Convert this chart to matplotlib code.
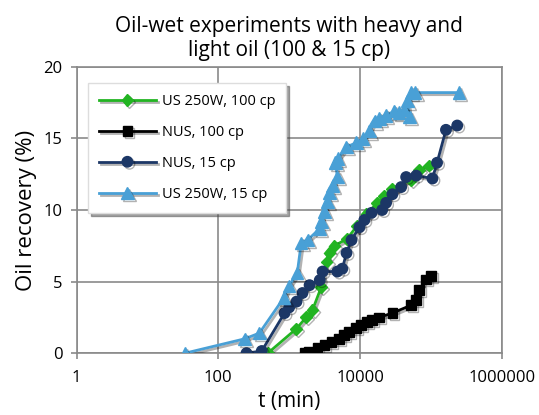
import matplotlib
matplotlib.use("Agg")
import matplotlib.pyplot as plt
import matplotlib.patheffects as pe
from matplotlib.ticker import FixedLocator, FixedFormatter, NullLocator

plt.rcParams['font.family'] = ['Open Sans', 'DejaVu Sans']

# US 250W, 100 cp (green diamonds)
us100_t = [500, 1260, 1740, 2130, 2830, 3370, 3700, 4360, 6600, 9100,
           12300, 17500, 22000, 28500, 52000, 68700, 95000]
us100_r = [0.0, 1.7, 2.5, 3.0, 4.6, 6.4, 7.0, 7.5, 8.0, 8.9,
           9.7, 10.5, 11.0, 11.5, 12.1, 12.8, 13.1]

# NUS, 100 cp (black squares)
nus100_t = [1650, 1900, 2500, 3150, 3950, 5060, 5960, 7000, 8850, 10400,
            12600, 14800, 18600, 28600, 52700, 62000, 68000, 85000, 100000]
nus100_r = [0.05, 0.1, 0.4, 0.55, 0.8, 1.0, 1.25, 1.5, 1.75, 1.95,
            2.2, 2.3, 2.5, 2.8, 3.35, 3.7, 4.4, 5.15, 5.4]

# NUS, 15 cp (navy circles)
nus15_t = [250, 410, 860, 1000, 1270, 1540, 1940, 2700, 2960, 4780, 5620,
           6440, 7580, 9800, 11500, 14500, 20500, 23300, 28600, 38000,
           44700, 62000, 105000, 122000, 163000, 235000]
nus15_r = [0.0, 0.15, 2.8, 3.2, 3.6, 4.2, 4.75, 5.1, 5.7, 5.7, 5.9,
           7.0, 7.9, 8.8, 9.3, 9.8, 10.0, 10.5, 11.1, 11.6,
           12.3, 12.4, 12.2, 13.3, 15.6, 15.9]

# US 250W, 15 cp (light blue triangles)
us15_t = [34, 235, 380, 850, 1000, 1300, 1480, 1820, 2700, 2850, 3150,
          3450, 3700, 4100, 4800, 4500, 4900, 6400, 8900, 11000, 13500,
          16000, 18700, 23000, 30500, 35600, 42000, 50000, 46500, 52600,
          60000, 250000]
us15_r = [0.0, 1.0, 1.4, 3.9, 4.7, 5.6, 7.7, 7.9, 8.7, 9.2, 9.9,
          10.6, 11.2, 11.7, 12.3, 13.3, 13.6, 14.4, 14.7, 15.0, 15.5,
          16.2, 16.4, 16.6, 16.9, 16.8, 17.0, 16.5, 17.6, 18.2,
          18.2, 18.2]

x_ticks = [1, 100, 10000, 1000000]
x_labels = ['1', '100', '10000', '1000000']
y_ticks = [0, 5, 10, 15, 20]

fig = plt.figure(figsize=(5.39, 4.15), dpi=100)
ax = fig.add_axes([0.142, 0.149, 0.789, 0.690])

shadow = [pe.SimpleLineShadow(offset=(1.5, -1.5), alpha=0.3), pe.Normal()]

series = [
    (us100_t, us100_r, '#22b422', 'D', 6, 'US 250W, 100 cp'),
    (nus100_t, nus100_r, '#000000', 's', 7, 'NUS, 100 cp'),
    (nus15_t, nus15_r, '#1c3766', 'o', 7.5, 'NUS, 15 cp'),
    (us15_t, us15_r, '#49a0d6', '^', 9, 'US 250W, 15 cp'),
]
for t, r, col, mk, ms, lab in series:
    ax.plot(t, r, color=col, marker=mk, markersize=ms, linewidth=2,
            label=lab, path_effects=shadow, zorder=3)

ax.set_xscale('log')
ax.set_xlim(1, 1000000)
ax.set_ylim(0, 20)
ax.xaxis.set_major_locator(FixedLocator(x_ticks))
ax.xaxis.set_major_formatter(FixedFormatter(x_labels))
ax.xaxis.set_minor_locator(NullLocator())
ax.set_yticks(y_ticks)
ax.grid(True, color='#8a8a8a', linewidth=1.2, zorder=0)
for s in ax.spines.values():
    s.set_color('#8a8a8a')
    s.set_linewidth(1.2)
ax.tick_params(direction='out', length=4, width=1.2, color='#8a8a8a',
               labelsize=12)
ax.tick_params(axis='x', pad=8)
ax.tick_params(axis='y', pad=6)

ax.set_xlabel('t (min)', fontsize=15, labelpad=4)
ax.set_ylabel('Oil recovery (%)', fontsize=16, labelpad=5)
ax.set_title('Oil-wet experiments with heavy and\nlight oil (100 & 15 cp)',
             fontsize=15, pad=8, linespacing=1.15)

leg = ax.legend(loc='upper left', bbox_to_anchor=(0.027, 0.944),
                borderaxespad=0, fontsize=10.5, handlelength=3.9,
                handletextpad=0.4, labelspacing=1.1, borderpad=0.75,
                fancybox=False, shadow=True, framealpha=1,
                edgecolor='#dddddd')

fig.savefig('out.png', dpi=100)
